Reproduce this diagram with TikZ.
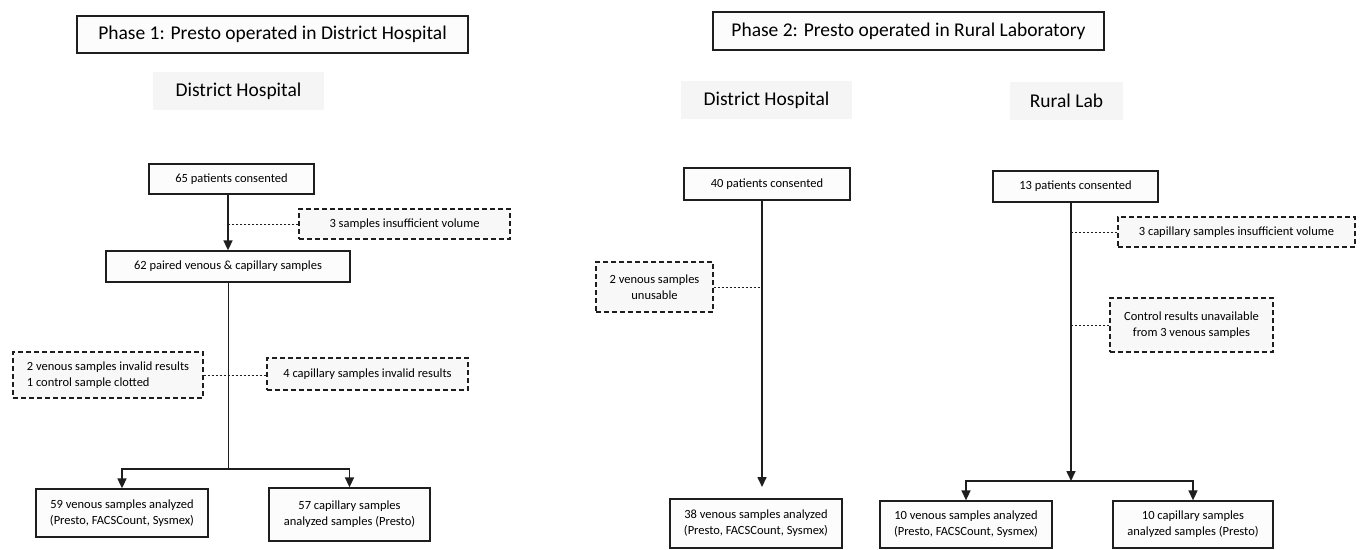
\documentclass[tikz,border=0pt]{standalone}
\usepackage{fontspec}
\setmainfont{Carlito}
\usetikzlibrary{arrows.meta}
\definecolor{edge}{HTML}{1E1E1E}
\definecolor{boxfill}{HTML}{FCFCFC}
\definecolor{sitefill}{HTML}{F5F5F5}
\definecolor{lossfill}{HTML}{F8F8F8}
\tikzset{
	phase/.style={draw=edge,line width=1.2pt,fill=boxfill,inner sep=0pt,font=\fontsize{19.5}{22}\selectfont},
	site/.style={fill=sitefill,inner sep=0pt,font=\fontsize{19.5}{22}\selectfont},
	stage/.style={draw=edge,line width=1.3pt,fill=boxfill,inner sep=0pt,align=center,font=\fontsize{12.5}{16}\selectfont},
	loss/.style={draw=edge,line width=1.3pt,dash pattern=on 5pt off 3pt,fill=lossfill,inner sep=0pt,align=center,font=\fontsize{12.5}{16}\selectfont},
	flow/.style={draw=edge,line width=1.6pt,-{Triangle[width=9pt,length=10pt]}},
	stem/.style={draw=edge,line width=0.9pt},
	link/.style={draw=edge,line width=0.8pt,dash pattern=on 2.5pt off 1.5pt}
}
\begin{document}
\begin{tikzpicture}[x=1pt,y=-1pt]
	\useasboundingbox (0,0) rectangle (1364,549);
	\node[phase,minimum width=391pt,minimum height=37pt] (hdrA) at (272.5,34.5) {Phase 1: Presto operated in District Hospital};
	\node[site,minimum width=171pt,minimum height=38pt] (siteA) at (238.5,91) {District Hospital};
	\node[stage,minimum width=165pt,minimum height=30pt] (p65) at (231.5,179) {65 patients consented};
	\node[loss,minimum width=211pt,minimum height=30pt] (ins3) at (404.5,224) {3 samples insufficient volume};
	\node[stage,minimum width=244pt,minimum height=31pt] (p62) at (228,266.5) {62 paired venous \& capillary samples};
	\node[loss,align=left,minimum width=190pt,minimum height=46pt] (invV) at (108,375) {2 venous samples invalid results\\1 control sample clotted};
	\node[loss,minimum width=201pt,minimum height=32pt] (invC) at (367.5,374) {4 capillary samples invalid results};
	\node[stage,minimum width=172pt,minimum height=48pt] (p59) at (122,513) {59 venous samples analyzed\\(Presto, FACSCount, Sysmex)};
	\node[stage,minimum width=161pt,minimum height=53pt] (p57) at (349.5,514.5) {57 capillary samples\\analyzed samples (Presto)};
	\coordinate (sA) at (228,469);
	\draw[flow] (p65.south -| p62.north) -- (p62.north);
	\draw[link] (ins3.west) -- (ins3.west -| p62.north);
	\draw[stem] (p62.south) -- (sA);
	\draw[link] (invV.east) -- (invV.east -| invC.west);
	\draw[flow] (sA) -| (p59.north);
	\draw[flow] (sA) -| (p57.north);

	\node[phase,minimum width=391pt,minimum height=38pt] (hdrB) at (908.5,31) {Phase 2: Presto operated in Rural Laboratory};
	\node[site,minimum width=171pt,minimum height=38pt] (siteB) at (766.5,100) {District Hospital};
	\node[site,minimum width=113pt,minimum height=38pt] (siteC) at (1066.5,101) {Rural Lab};
	\node[stage,minimum width=166pt,minimum height=32pt] (p40) at (767,184) {40 patients consented};
	\node[loss,minimum width=117pt,minimum height=50pt] (unus) at (654.5,287) {2 venous samples\\unusable};
	\node[stage,minimum width=172pt,minimum height=49pt] (p38) at (756,523.5) {38 venous samples analyzed\\(Presto, FACSCount, Sysmex)};
	\coordinate (tB) at (762,487);
	\draw[flow] (tB |- p40.south) -- (tB);
	\draw[link] (unus.east) -- (unus.east -| tB);

	\node[stage,minimum width=165pt,minimum height=31pt] (p13) at (1075.5,186.5) {13 patients consented};
	\node[loss,minimum width=237pt,minimum height=30pt] (capins) at (1236.5,232) {3 capillary samples insufficient volume};
	\node[loss,minimum width=163pt,minimum height=54pt] (ctrl) at (1191.5,325) {Control results unavailable\\from 3 venous samples};
	\node[stage,minimum width=172pt,minimum height=47pt] (p10v) at (966,524.5) {10 venous samples analyzed\\(Presto, FACSCount, Sysmex)};
	\node[stage,minimum width=160pt,minimum height=47pt] (p10c) at (1193,524.5) {10 capillary samples\\analyzed samples (Presto)};
	\coordinate (sB) at (1071,481);
	\draw[flow] (p13.south -| sB) -- (sB);
	\draw[link] (capins.west) -- (capins.west -| sB);
	\draw[link] (ctrl.west) -- (ctrl.west -| sB);
	\draw[flow] (sB) -| (p10v.north);
	\draw[flow] (sB) -| (p10c.north);
\end{tikzpicture}
\end{document}
